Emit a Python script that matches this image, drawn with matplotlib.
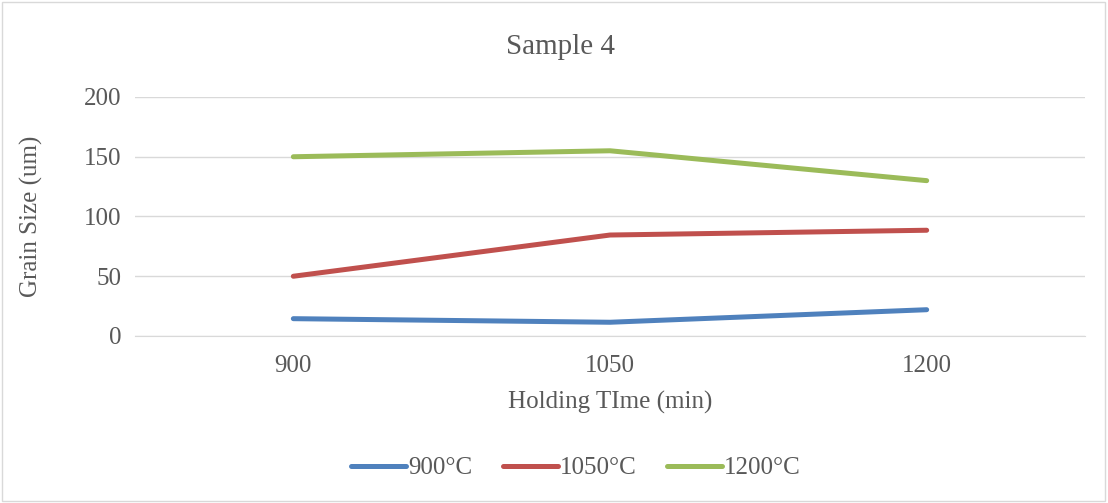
import matplotlib
matplotlib.use("Agg")
import matplotlib.pyplot as plt
from matplotlib.patches import Rectangle

categories = ["900", "1050", "1200"]
series_names = ["900°C", "1050°C", "1200°C"]
s900 = [14.5, 11.5, 22]
s1050 = [50, 84.5, 88.5]
s1200 = [150, 155, 130]
yticks = [0, 50, 100, 150, 200]

colors = ["#4F81BD", "#C0504D", "#9BBB59"]
txt = "#595959"
plt.rcParams['font.family'] = ['Liberation Serif', 'DejaVu Serif']

fig = plt.figure(figsize=(11.08, 5.03), dpi=100)
fig.patches.append(Rectangle((0.002, 0.003), 0.995, 0.994, transform=fig.transFigure,
                             fill=False, edgecolor="#D9D9D9", linewidth=1.0))
ax = fig.add_axes([135/1108, (503-336)/503, 950/1108, 239/503])

x = list(range(len(categories)))
for ys, name, c in zip([s900, s1050, s1200], series_names, colors):
    ax.plot(x, ys, color=c, lw=3.6, solid_capstyle='round', solid_joinstyle='round', label=name)

ax.set_xlim(-0.5, len(categories) - 0.5)
ax.set_ylim(0, 200)
ax.set_yticks(yticks)
ax.set_xticks(x)
ax.set_xticklabels(categories)
ax.grid(axis='y', color="#D9D9D9", lw=1.0)
ax.set_axisbelow(True)
for s in ['top', 'right', 'left']:
    ax.spines[s].set_visible(False)
ax.spines['bottom'].set_color("#D9D9D9")
ax.tick_params(length=0, labelsize=18, colors=txt, pad=10)
ax.tick_params(axis='x', pad=14)
ax.set_xlabel("Holding TIme (min)", fontsize=18, color=txt, labelpad=10)
ax.set_ylabel("Grain Size (um)", fontsize=18, color=txt, labelpad=8)
ax.yaxis.set_label_coords(-92/950, 0.5)
fig.text(560/1108, 1 - 47/503, "Sample 4", ha='center', va='center', fontsize=21, color=txt)

leg = fig.legend(loc='center', bbox_to_anchor=(576/1108, 1 - 468/503), ncol=3, frameon=False,
                 fontsize=18, labelcolor=txt, handlelength=2.2, handletextpad=0.1, columnspacing=1.2)
for h in leg.legend_handles:
    h.set_solid_capstyle('round')

fig.savefig("out.png", dpi=100)
